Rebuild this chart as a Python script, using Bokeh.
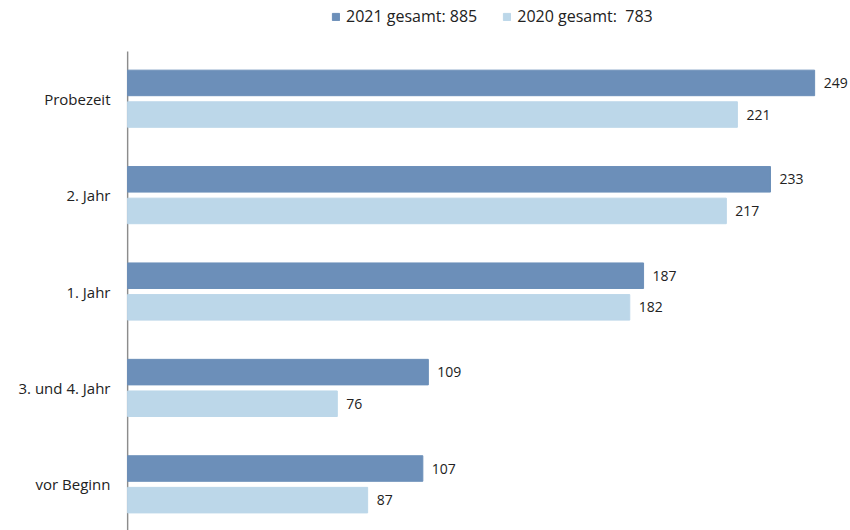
from bokeh.plotting import figure
from bokeh.models import ColumnDataSource, Range1d, FixedTicker, Legend, LegendItem
from bokeh.transform import dodge
from bokeh.core.properties import value
from bokeh.embed import file_html
from bokeh.resources import INLINE

categories = ["Probezeit", "2. Jahr", "1. Jahr", "3. und 4. Jahr", "vor Beginn"]
values_2021 = [249, 233, 187, 109, 107]
values_2020 = [221, 217, 182, 76, 87]
legend_2021 = "2021 gesamt: 885"
legend_2020 = "2020 gesamt:  783"

positions = [len(categories) - 1 - i for i in range(len(categories))]

src = ColumnDataSource(dict(
    pos=positions,
    cat=categories,
    v21=values_2021,
    v20=values_2020,
    t21=[str(v) for v in values_2021],
    t20=[str(v) for v in values_2020],
))

FONT = "Open Sans"
DARK = "#6c8fb9"
LIGHT = "#bcd7e9"
TXT = "#222222"

Y_BOTTOM, Y_TOP = -0.479, 5.019
AXIS_TOP = 4.49

p = figure(width=850, height=530, output_backend="svg", toolbar_location=None,
           x_range=Range1d(-0.4, 262.0), y_range=Range1d(Y_BOTTOM, Y_TOP),
           min_border_left=126, min_border_right=0, min_border_top=0, min_border_bottom=0)

# vertical axis line (category axis baseline)
p.segment(x0=[0], y0=[Y_BOTTOM], x1=[0], y1=[AXIS_TOP], line_color="#8c8c8c", line_width=1.5)

r21 = p.hbar(y=dodge("pos", 0.164, range=p.y_range), right="v21", left=0, height=0.265,
             source=src, color=DARK)
r20 = p.hbar(y=dodge("pos", -0.164, range=p.y_range), right="v20", left=0, height=0.265,
             source=src, color=LIGHT)

p.text(x="v21", y=dodge("pos", 0.164, range=p.y_range), text="t21", source=src,
       x_offset=9, text_baseline="middle", text_font=value(FONT), text_font_size="14px",
       text_color=TXT)
p.text(x="v20", y=dodge("pos", -0.164, range=p.y_range), text="t20", source=src,
       x_offset=9, text_baseline="middle", text_font=value(FONT), text_font_size="14px",
       text_color=TXT)

p.xaxis.visible = False
p.xgrid.visible = False
p.ygrid.visible = False
p.outline_line_color = None

p.yaxis.ticker = FixedTicker(ticks=positions)
p.yaxis.major_label_overrides = {pos: cat for pos, cat in zip(positions, categories)}
p.yaxis.major_tick_line_color = None
p.yaxis.minor_tick_line_color = None
p.yaxis.axis_line_color = None
p.yaxis.major_label_standoff = 10
p.yaxis.major_label_text_font = FONT
p.yaxis.major_label_text_font_size = "15px"
p.yaxis.major_label_text_color = TXT

legend = Legend(items=[LegendItem(label=legend_2021, renderers=[r21]),
                       LegendItem(label=legend_2020, renderers=[r20])],
                orientation="horizontal", location=(205, 503),
                label_text_font=FONT, label_text_font_size="16px", label_text_color=TXT,
                glyph_width=9, glyph_height=9, spacing=25, label_standoff=6,
                border_line_color=None, background_fill_alpha=0, padding=0, margin=0)
p.add_layout(legend, "center")

open("out.html", "w").write(file_html(p, INLINE))
